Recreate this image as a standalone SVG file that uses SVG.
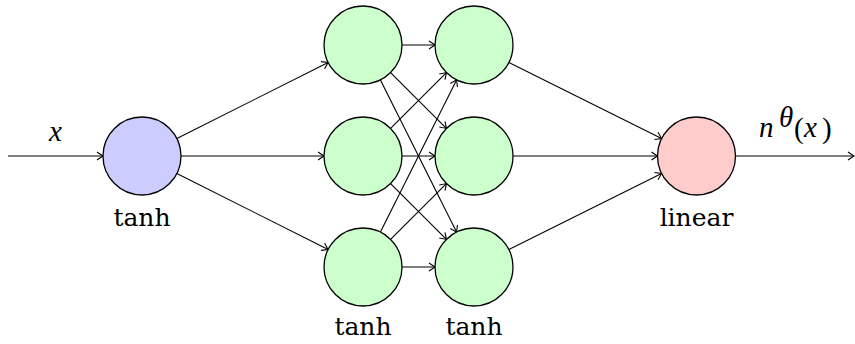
<svg xmlns="http://www.w3.org/2000/svg" width="855" height="344" viewBox="0 0 855 344">
<style>
.n{stroke:#000;stroke-width:1.3}
.in{fill:#ccccff}.hid{fill:#ccffcc}.out{fill:#ffcccc}
.e{stroke:#000;stroke-width:1.1;fill:none;marker-end:url(#tip)}
.t{font-family:"DejaVu Serif","Liberation Serif",serif;font-size:25px;fill:#000;text-anchor:middle}
.m{font-family:"Liberation Serif","DejaVu Serif",serif;font-style:italic;font-size:29px;fill:#000}
.p{font-family:"Liberation Serif","DejaVu Serif",serif;font-size:29px;fill:#000}
</style>
<defs>
<marker id="tip" markerUnits="userSpaceOnUse" markerWidth="12" markerHeight="12" viewBox="-10 -6 12 12" refX="0" refY="0" orient="auto">
<path d="M-6,-4 Q-1.5,-1 0,0 Q-1.5,1 -6,4" fill="none" stroke="#000" stroke-width="1.1"/>
</marker>
</defs>
<g id="connectors">
<line class="e" x1="8" y1="156" x2="103" y2="156"/>
<line class="e" x1="176.85" y1="138.5" x2="328.15" y2="62.5"/>
<line class="e" x1="181" y1="156" x2="324" y2="156"/>
<line class="e" x1="176.85" y1="173.5" x2="328.15" y2="249.5"/>
<line class="e" x1="402" y1="45" x2="435" y2="45"/>
<line class="e" x1="402" y1="156" x2="435" y2="156"/>
<line class="e" x1="402" y1="267" x2="435" y2="267"/>
<line class="e" x1="390.58" y1="72.58" x2="446.42" y2="128.42"/>
<line class="e" x1="380.44" y1="79.88" x2="456.56" y2="232.12"/>
<line class="e" x1="390.58" y1="128.42" x2="446.42" y2="72.58"/>
<line class="e" x1="390.58" y1="183.58" x2="446.42" y2="239.42"/>
<line class="e" x1="380.44" y1="232.12" x2="456.56" y2="79.88"/>
<line class="e" x1="390.58" y1="239.42" x2="446.42" y2="183.58"/>
<line class="e" x1="508.9" y1="62.41" x2="661.6" y2="138.59"/>
<line class="e" x1="513" y1="156" x2="657.5" y2="156"/>
<line class="e" x1="508.9" y1="249.59" x2="661.6" y2="173.41"/>
<line class="e" x1="735.5" y1="156" x2="854" y2="156"/>
</g>
<g id="input"><circle class="n in" cx="142" cy="156" r="39"/><text class="t" x="142" y="226">tanh</text></g>
<g id="h1a"><circle class="n hid" cx="363" cy="45" r="39"/></g>
<g id="h1b"><circle class="n hid" cx="363" cy="156" r="39"/></g>
<g id="h1c"><circle class="n hid" cx="363" cy="267" r="39"/><text class="t" x="363" y="335">tanh</text></g>
<g id="h2a"><circle class="n hid" cx="474" cy="45" r="39"/></g>
<g id="h2b"><circle class="n hid" cx="474" cy="156" r="39"/></g>
<g id="h2c"><circle class="n hid" cx="474" cy="267" r="39"/><text class="t" x="474" y="335">tanh</text></g>
<g id="output"><circle class="n out" cx="696.5" cy="156" r="39"/><text class="t" x="696.5" y="226">linear</text></g>
<g id="labels">
<text class="m" x="49" y="141">x</text>
<text class="m" x="759" y="137">n</text>
<text class="m" x="779" y="127" font-size="17">θ</text>
<text class="p" x="794" y="138">(</text>
<text class="m" x="804" y="137">x</text>
<text class="p" x="822" y="138">)</text>
</g>
</svg>
